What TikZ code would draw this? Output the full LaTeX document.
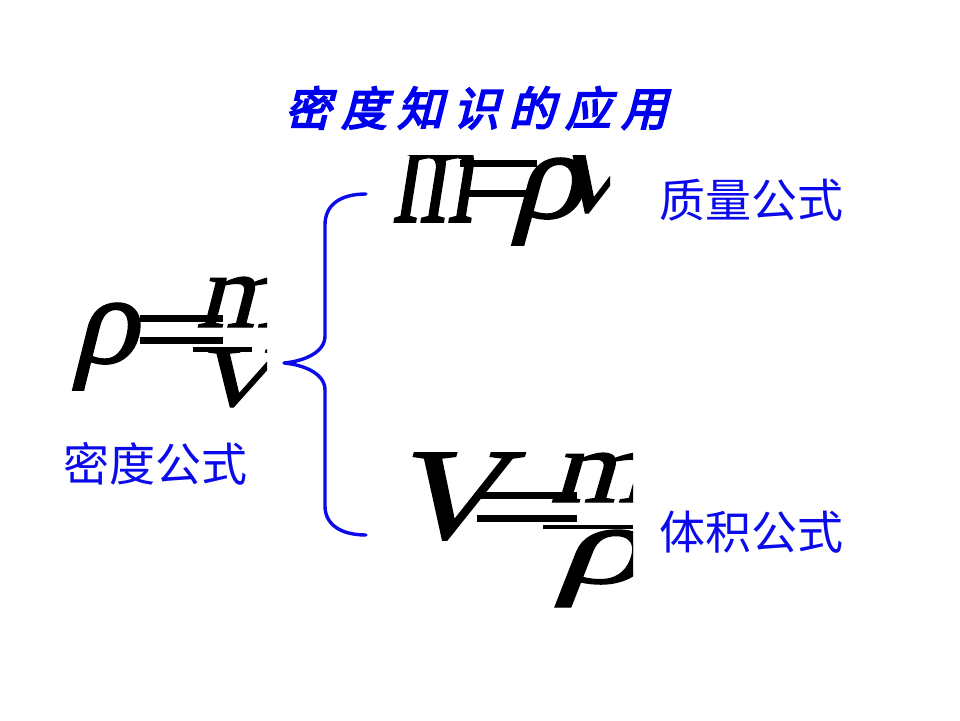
\documentclass[tikz,border=0pt]{standalone}
\usepackage{graphicx}
\usepackage{fontspec}
\setmainfont{Liberation Serif}
\newfontfamily\itf[FakeSlant=0.24,FakeBold=1.2]{Liberation Serif}
\newfontfamily\cjk{Noto Sans CJK SC}
\newfontfamily\cjktitle[FakeBold=4,FakeSlant=0.25]{Noto Sans CJK SC}
\newcommand\fglyph[3]{\resizebox*{#1pt}{#2pt}{\itf #3}}
\newcommand\tsp{\hspace{10pt}}
\definecolor{tblue}{RGB}{0,0,240}
\definecolor{lblue}{RGB}{10,10,235}
\tikzset{
  glyph/.style={inner sep=0pt, outer sep=0pt, anchor=north west, text=black},
  bar/.style={fill=black, draw=none},
  label/.style={inner sep=0pt, text=lblue, font=\cjk\fontsize{46}{46}\selectfont},
  brace/.style={draw=lblue, line width=3.4pt, line cap=round, line join=round}
}
\begin{document}
\begin{tikzpicture}[x=1pt,y=-1pt]
\useasboundingbox (0,0) rectangle (960,720);
\fill[white] (0,0) rectangle (960,720);

% title
\node[inner sep=0pt, text=tblue, font=\cjktitle\fontsize{46}{46}\selectfont] (title) at (476,108)
  {密\tsp 度\tsp 知\tsp 识\tsp 的\tsp 应\tsp 用};

% formula rho = m / V
\begin{scope}
\clip (0,0) rectangle (267,720);
\node[glyph] (rho1) at (71,303) {\fglyph{66}{87}{ρ}};
\fill[bar] (140,315) rectangle (223,322);
\fill[bar] (140,337) rectangle (223,344);
\node[glyph] (m1) at (196,277) {\fglyph{88}{50}{m}};
\fill[bar] (193,347) rectangle (252,352);
\node[glyph] (V1) at (190,350) {\fglyph{84}{57}{V}};
\end{scope}

% formula m = rho V
\begin{scope}
\clip (0,155) rectangle (610,720);
\node[glyph] (m2) at (392,148) {\fglyph{80}{74}{m}};
\fill[bar] (460,160) rectangle (537,167);
\fill[bar] (460,190) rectangle (537,197);
\node[glyph] (rho2) at (510,158) {\fglyph{72}{87}{ρ}};
\node[glyph] (V2) at (546,148) {\fglyph{82}{65}{V}};
\end{scope}

% formula V = m / rho
\begin{scope}
\clip (0,0) rectangle (633,720);
\node[glyph] (V3) at (388,453) {\fglyph{114}{87}{V}};
\fill[bar] (477,492) rectangle (577,499);
\fill[bar] (477,515) rectangle (577,522);
\node[glyph] (m3) at (550,453) {\fglyph{98}{49}{m}};
\fill[bar] (543,525) rectangle (633,529);
\node[glyph] (rho3) at (553,530) {\fglyph{92}{77}{ρ}};
\end{scope}

% labels
\node[label] (lm) at (751,200) {质量公式};
\node[label] (lrho) at (155,464) {密度公式};
\node[label] (lV) at (751,532) {体积公式};

% brace
\coordinate (btop) at (366,194);
\coordinate (btip) at (284,363);
\coordinate (bbot) at (366,535);
\draw[brace] (btop) .. controls (340,194) and (325,205) .. (325,225)
  -- (325,336) .. controls (325,352) and (305,361) .. (btip)
  .. controls (305,365) and (325,374) .. (325,390)
  -- (325,506) .. controls (325,524) and (340,535) .. (bbot);
\end{tikzpicture}
\end{document}
